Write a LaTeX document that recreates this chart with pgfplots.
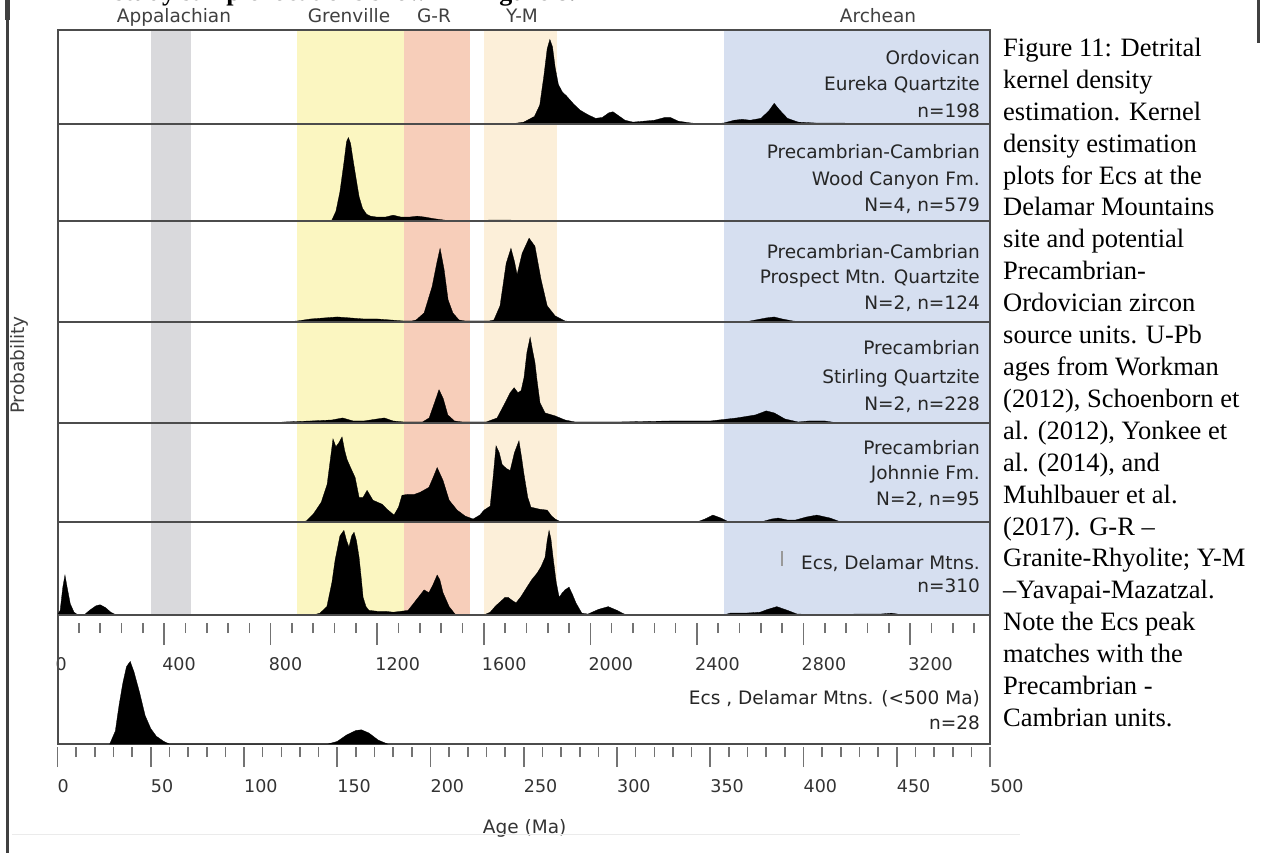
\documentclass[border=0pt]{standalone}
\usepackage{fontspec}
\setmainfont{Liberation Serif}
\newfontfamily\dejavu{DejaVu Sans}
\usepackage{pgfplots}
\pgfplotsset{compat=1.18}
\definecolor{appal}{RGB}{217,217,220}
\definecolor{grenv}{RGB}{251,246,193}
\definecolor{grband}{RGB}{247,206,186}
\definecolor{ymband}{RGB}{252,239,217}
\definecolor{arch}{RGB}{214,223,240}
\newcommand{\lblfont}{\dejavu\fontsize{18.5}{20}\selectfont}
\newcommand{\tickfont}{\dejavu\fontsize{17.5}{20}\selectfont}
\pgfplotsset{
  panel/.style={scale only axis, width=932.5pt, xmin=0, xmax=3500, ymin=0, ymax=1,
    xtick=\empty, ytick=\empty, anchor=south west,
    axis line style={draw=black!70, line width=2pt}},
  kde/.style={fill=black, draw=black, line width=0.3pt, mark=none},
}
\begin{document}
\begin{tikzpicture}
\useasboundingbox (0,0) rectangle (1262pt,-853pt);
% ---------- age bands ----------
\begin{axis}[scale only axis, width=932.5pt, height=585pt, at={(57.5pt,-615pt)}, anchor=south west,
  xmin=0, xmax=3500, ymin=0, ymax=1, hide axis]
\addplot[fill=appal, draw=none] coordinates {(350,1)(500,1)} \closedcycle;
\addplot[fill=grenv, draw=none] coordinates {(900,1)(1300,1)} \closedcycle;
\addplot[fill=grband, draw=none] coordinates {(1300,1)(1550,1)} \closedcycle;
\addplot[fill=ymband, draw=none] coordinates {(1600,1)(1875,1)} \closedcycle;
\addplot[fill=arch, draw=none] coordinates {(2500,1)(3500,1)} \closedcycle;
\end{axis}
% ---------- Panel 1: Ordovician Eureka Quartzite ----------
\begin{axis}[panel, height=94pt, at={(57.5pt,-124pt)}]
\addplot[kde] coordinates {(1700,0)(1750,0.02)(1790,0.08)(1810,0.2)(1825,0.5)(1838,0.8)(1848,0.9)(1858,0.82)(1868,0.6)(1880,0.42)(1895,0.34)(1910,0.3)(1935,0.22)(1960,0.15)(1990,0.1)(2020,0.06)(2045,0.07)(2070,0.12)(2085,0.13)(2100,0.1)(2130,0.04)(2160,0.02)(2200,0.03)(2240,0.04)(2280,0.07)(2300,0.07)(2330,0.03)(2380,0.01)(2430,0)(2500,0.01)(2540,0.04)(2570,0.05)(2600,0.04)(2640,0.06)(2670,0.14)(2690,0.22)(2710,0.15)(2740,0.06)(2780,0.02)(2850,0.01)(2950,0.01)(3000,0)} \closedcycle;
\end{axis}
% ---------- Panel 2: Wood Canyon Fm ----------
\begin{axis}[panel, height=97pt, at={(57.5pt,-221pt)}]
\addplot[kde] coordinates {(1000,0)(1030,0.01)(1045,0.1)(1060,0.3)(1075,0.6)(1085,0.82)(1092,0.86)(1100,0.8)(1110,0.62)(1120,0.45)(1132,0.25)(1145,0.13)(1160,0.07)(1175,0.05)(1200,0.04)(1230,0.04)(1260,0.06)(1290,0.04)(1320,0.04)(1350,0.05)(1380,0.04)(1410,0.025)(1450,0.01)(1480,0)(1600,0)(1620,0.01)(1700,0.01)(1720,0)} \closedcycle;
\end{axis}
% ---------- Panel 3: Prospect Mtn Quartzite ----------
\begin{axis}[panel, height=101pt, at={(57.5pt,-322pt)}]
\addplot[kde] coordinates {(850,0)(900,0.01)(950,0.03)(1000,0.04)(1050,0.05)(1100,0.04)(1150,0.03)(1200,0.03)(1250,0.02)(1300,0.01)(1330,0.01)(1346,0.02)(1376,0.09)(1406,0.35)(1425,0.6)(1436,0.73)(1451,0.52)(1466,0.22)(1484,0.09)(1507,0.02)(1530,0.01)(1580,0.01)(1620,0.01)(1638,0.02)(1661,0.16)(1684,0.58)(1702,0.73)(1715,0.6)(1725,0.47)(1744,0.68)(1770,0.83)(1792,0.75)(1815,0.42)(1838,0.16)(1868,0.06)(1905,0.01)(1950,0)(2580,0)(2620,0.02)(2660,0.04)(2690,0.05)(2720,0.03)(2760,0.01)(2800,0)} \closedcycle;
\end{axis}
% ---------- Panel 4: Stirling Quartzite ----------
\begin{axis}[panel, height=101pt, at={(57.5pt,-423pt)}]
\addplot[kde] coordinates {(800,0)(850,0.01)(950,0.02)(1030,0.03)(1070,0.05)(1110,0.02)(1150,0.02)(1200,0.04)(1226,0.05)(1260,0.02)(1300,0.01)(1370,0.01)(1395,0.05)(1415,0.2)(1432,0.33)(1448,0.24)(1465,0.08)(1490,0.02)(1520,0.01)(1580,0.01)(1609,0.01)(1650,0.05)(1680,0.2)(1699,0.3)(1714,0.35)(1728,0.3)(1740,0.32)(1751,0.45)(1762,0.7)(1774,0.85)(1783,0.72)(1792,0.6)(1800,0.42)(1811,0.2)(1830,0.1)(1868,0.07)(1905,0.03)(1943,0.01)(2100,0.01)(2300,0.02)(2450,0.02)(2550,0.05)(2620,0.08)(2660,0.12)(2690,0.1)(2730,0.04)(2780,0.01)(2820,0.02)(2880,0.02)(2930,0)} \closedcycle;
\end{axis}
% ---------- Panel 5: Johnnie Fm ----------
\begin{axis}[panel, height=99pt, at={(57.5pt,-522pt)}]
\addplot[kde] coordinates {(900,0)(934,0.01)(960,0.08)(990,0.2)(1012,0.38)(1025,0.65)(1034,0.84)(1045,0.76)(1056,0.8)(1068,0.86)(1078,0.72)(1087,0.63)(1100,0.55)(1117,0.45)(1132,0.25)(1147,0.25)(1162,0.32)(1184,0.22)(1218,0.18)(1241,0.12)(1263,0.07)(1280,0.15)(1293,0.27)(1316,0.28)(1340,0.28)(1361,0.3)(1394,0.35)(1410,0.45)(1425,0.55)(1447,0.42)(1470,0.22)(1500,0.12)(1530,0.06)(1560,0.03)(1585,0.07)(1601,0.12)(1624,0.16)(1635,0.45)(1646,0.77)(1658,0.7)(1669,0.58)(1685,0.54)(1699,0.52)(1715,0.7)(1732,0.82)(1742,0.65)(1751,0.48)(1765,0.25)(1777,0.15)(1808,0.13)(1838,0.12)(1855,0.06)(1868,0.03)(1890,0)(2400,0)(2430,0.03)(2460,0.07)(2490,0.04)(2520,0)(2640,0)(2680,0.03)(2705,0.04)(2740,0.02)(2770,0.02)(2810,0.05)(2850,0.07)(2900,0.04)(2940,0)} \closedcycle;
\end{axis}
% ---------- Panel 6: Ecs, Delamar Mtns ----------
\begin{axis}[panel, height=93pt, at={(57.5pt,-615pt)},
  xtick={0,400,...,3200}, minor xtick={80,160,...,3440}, xtick pos=bottom,
  tick align=outside, major tick length=22pt, minor tick length=10pt,
  every tick/.append style={black!55, line width=1.6pt, yshift=-8pt},
  /pgf/number format/assume math mode=true, /pgf/number format/1000 sep={},
  xticklabel style={font=\tickfont, text=black!80, anchor=north west, inner sep=0pt, xshift=-2pt, yshift=-20pt}]
\addplot[kde] coordinates {(0,0)(10,0.05)(20,0.3)(28,0.43)(36,0.3)(48,0.12)(62,0.03)(77,0)(100,0)(120,0.05)(145,0.1)(160,0.11)(180,0.08)(200,0.03)(221,0)(960,0)(985,0.02)(1011,0.09)(1030,0.35)(1042,0.59)(1060,0.85)(1075,0.91)(1085,0.8)(1094,0.73)(1104,0.85)(1113,0.89)(1122,0.8)(1132,0.62)(1140,0.4)(1147,0.19)(1158,0.09)(1169,0.05)(1200,0.04)(1230,0.04)(1260,0.03)(1290,0.04)(1316,0.05)(1346,0.16)(1376,0.27)(1394,0.24)(1410,0.33)(1425,0.43)(1435,0.38)(1447,0.24)(1470,0.09)(1492,0.01)(1520,0)(1600,0)(1624,0.03)(1645,0.1)(1661,0.14)(1680,0.19)(1691,0.19)(1705,0.16)(1721,0.13)(1740,0.2)(1762,0.3)(1780,0.38)(1800,0.45)(1815,0.52)(1830,0.62)(1838,0.8)(1845,0.91)(1852,0.82)(1860,0.62)(1872,0.35)(1883,0.19)(1895,0.24)(1905,0.27)(1920,0.3)(1933,0.22)(1946,0.13)(1968,0.02)(1991,0.01)(2030,0.06)(2067,0.09)(2100,0.05)(2127,0.01)(2160,0)(2500,0)(2525,0.02)(2580,0.02)(2637,0.03)(2665,0.06)(2700,0.09)(2740,0.05)(2776,0.01)(2963,0)(2990,0.01)(3040,0.01)(3088,0.01)(3130,0.02)(3175,0)} \closedcycle;
\end{axis}
% ---------- Bottom panel: Ecs < 500 Ma ----------
\begin{axis}[scale only axis, width=932.5pt, height=129pt, at={(57.5pt,-744pt)}, anchor=south west,
  xmin=0, xmax=500, ymin=0, ymax=1, ytick=\empty,
  axis line style={draw=black!70, line width=2pt},
  xtick={0,50,...,500}, minor xtick={10,20,...,490}, xtick pos=bottom,
  tick align=outside, major tick length=20pt, minor tick length=10pt,
  every tick/.append style={black!55, line width=1.6pt, yshift=-3pt},
  /pgf/number format/assume math mode=true,
  xticklabel style={font=\tickfont, text=black!80, anchor=north west, inner sep=0pt, xshift=0pt, yshift=-15pt},
  xlabel={Age (Ma)}, xlabel style={font=\lblfont, text=black!80, at={(axis description cs:0.501,0)}, anchor=center, yshift=-84pt}]
\addplot[kde] coordinates {(28,0)(31,0.1)(33,0.3)(35,0.47)(37,0.6)(39,0.64)(41,0.56)(44,0.4)(47,0.22)(50,0.12)(53,0.06)(57,0.02)(60,0)(145,0)(150,0.02)(155,0.07)(160,0.105)(163,0.11)(167,0.085)(172,0.03)(177,0)} \closedcycle;
\end{axis}
% ---------- band names ----------
\begin{scope}[every node/.style={font=\lblfont, text=black!75, anchor=base}]
\node at (174pt,-22.5pt) {Appalachian};
\node at (349pt,-22.5pt) {Grenville};
\node at (434pt,-22.5pt) {G-R};
\node at (522pt,-22.5pt) {Y-M};
\node at (878pt,-22.5pt) {Archean};
\end{scope}
% ---------- panel labels ----------
\begin{scope}[every node/.style={font=\lblfont, text=black!85, anchor=base east, inner sep=0pt}]
\node at (980pt,-64.5pt) {Ordovican};
\node at (980pt,-91pt) {Eureka Quartzite};
\node at (980pt,-117.5pt) {n=198};
\node at (980pt,-159pt) {Precambrian-Cambrian};
\node at (980pt,-186pt) {Wood Canyon Fm.};
\node at (980pt,-212pt) {N=4, n=579};
\node at (980pt,-259pt) {Precambrian-Cambrian};
\node at (980pt,-284pt) {Prospect Mtn. Quartzite};
\node at (980pt,-309pt) {N=2, n=124};
\node at (980pt,-355pt) {Precambrian};
\node at (980pt,-383pt) {Stirling Quartzite};
\node at (980pt,-410pt) {N=2, n=228};
\node at (980pt,-454pt) {Precambrian};
\node at (980pt,-479pt) {Johnnie Fm.};
\node at (980pt,-505pt) {N=2, n=95};
\node at (980pt,-569pt) {Ecs, Delamar Mtns.};
\node at (980pt,-592pt) {n=310};
\node at (980pt,-704pt) {Ecs , Delamar Mtns. (<500 Ma)};
\node at (980pt,-729pt) {n=28};
\end{scope}
\draw[black!40, line width=1.5pt] (782pt,-551pt) -- (782pt,-566pt);
% ---------- y label ----------
\node[font=\lblfont, text=black!75, rotate=90] at (19pt,-365pt) {Probability};
% ---------- caption ----------
\foreach \t [count=\i] in {{Figure 11: Detrital},{kernel density},{estimation. Kernel},{density estimation},{plots for Ecs at the},{Delamar Mountains},{site and potential},{Precambrian-},{Ordovician zircon},{source units. U-Pb},{ages from Workman},{(2012), Schoenborn et},{al. (2012), Yonkee et},{al. (2014), and},{Muhlbauer et al.},{(2017). G-R –},{Granite-Rhyolite; Y-M},{–Yavapai-Mazatzal.},{Note the Ecs peak},{matches with the},{Precambrian -},{Cambrian units.}}
  \node[anchor=base west, inner sep=0pt, font=\fontsize{26.5}{30}\selectfont] at (1003pt,{-(56.5+(\i-1)*31.9)*1pt}) {\t};
% ---------- clipped heading and page edges ----------
\node[anchor=base, font=\bfseries\fontsize{26}{30}\selectfont] at (345pt,-1pt) {study sample locations shown in Figure 8.};
\draw[black!75, line width=3pt] (7pt,0pt) -- (7pt,-853pt);
\draw[black!75, line width=5pt] (7pt,0pt) -- (7pt,-20pt);
\draw[black!75, line width=3pt] (1258pt,0pt) -- (1258pt,-43pt);
\draw[black!8, line width=1pt] (12pt,-834pt) -- (1020pt,-834pt);
\end{tikzpicture}
\end{document}
